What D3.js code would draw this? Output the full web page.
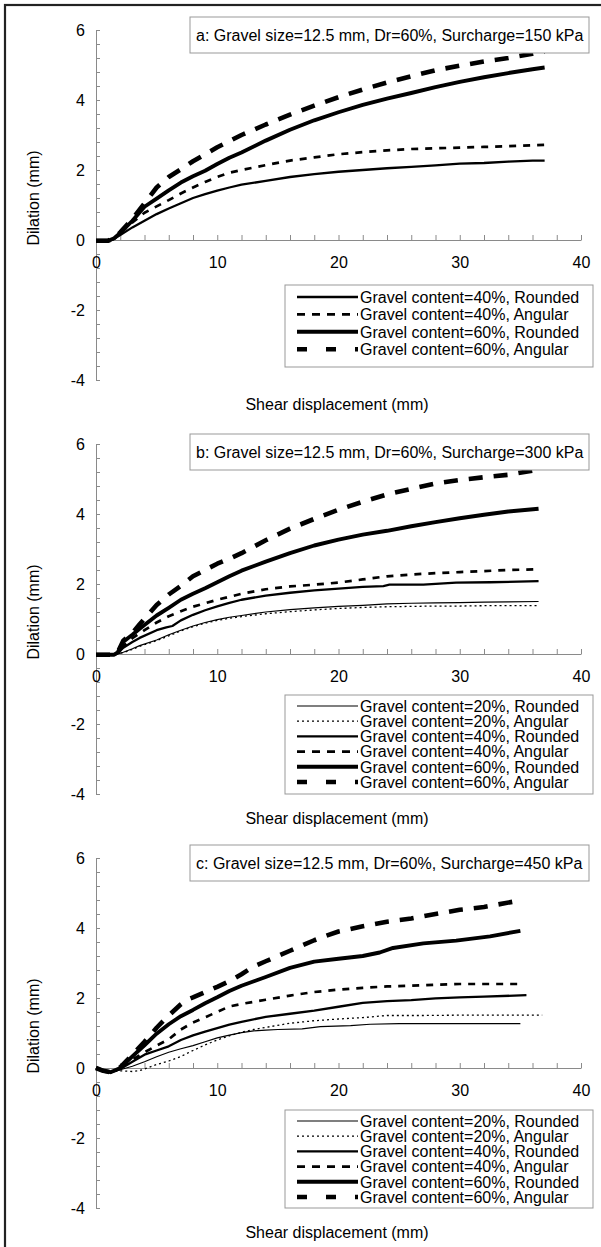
<!DOCTYPE html>
<html><head><meta charset="utf-8">
<script src="https://cdn.jsdelivr.net/npm/d3@7"></script>
<style>
body{margin:0;background:#fff}
svg{display:block}
text{font-family:"Liberation Sans",Arial,Helvetica,sans-serif;fill:#000}
</style>
</head><body>
<svg id="chart" width="601" height="1247"></svg>
<script>
// ---------- DATA (shear displacement mm, dilation mm) ----------
const xTickLabels = [0, 10, 20, 30, 40];
const yTickLabels = [6, 4, 2, 0, -2, -4];
const panelTitles = [
  "a: Gravel size=12.5 mm, Dr=60%, Surcharge=150 kPa",
  "b: Gravel size=12.5 mm, Dr=60%, Surcharge=300 kPa",
  "c: Gravel size=12.5 mm, Dr=60%, Surcharge=450 kPa"
];
const seriesLabels = {
  R20: "Gravel content=20%, Rounded",
  A20: "Gravel content=20%, Angular",
  R40: "Gravel content=40%, Rounded",
  A40: "Gravel content=40%, Angular",
  R60: "Gravel content=60%, Rounded",
  A60: "Gravel content=60%, Angular"
};

// Panel a (150 kPa)
const a_R40 = [[0,-0.02],[0.8,-0.03],[1.3,0.0],[2,0.14],[3,0.36],[4,0.55],[5,0.74],[6,0.9],[7,1.05],[8,1.2],[9,1.31],[10,1.41],[11,1.5],[12,1.58],[14,1.69],[16,1.8],[18,1.88],[20,1.95],[22,2.0],[24,2.05],[26,2.09],[28,2.13],[30,2.18],[32,2.2],[34,2.24],[36,2.27],[37,2.27]];
const a_A40 = [[0,-0.02],[1,-0.02],[1.5,0.04],[2,0.2],[3,0.5],[4,0.78],[5,0.96],[6,1.14],[7,1.33],[8,1.5],[9,1.66],[10,1.8],[11,1.92],[12,2.0],[14,2.14],[16,2.27],[18,2.36],[20,2.45],[22,2.51],[24,2.56],[26,2.6],[28,2.62],[30,2.64],[32,2.66],[34,2.68],[37,2.72]];
const a_R60 = [[0,-0.02],[1,-0.02],[1.5,0.05],[2,0.2],[3,0.55],[4,0.95],[5,1.18],[6,1.42],[7,1.64],[8,1.82],[9,1.98],[10,2.17],[11,2.35],[12,2.5],[14,2.84],[16,3.15],[18,3.42],[20,3.65],[22,3.86],[24,4.04],[26,4.2],[28,4.37],[30,4.52],[32,4.65],[34,4.77],[36,4.88],[37,4.93]];
const a_A60 = [[0,-0.02],[1,-0.02],[1.5,0.05],[2,0.22],[3,0.6],[4,1.05],[5,1.5],[6,1.8],[7,2.02],[8,2.25],[9,2.45],[10,2.65],[12,3.0],[14,3.3],[16,3.58],[18,3.84],[20,4.08],[22,4.3],[24,4.5],[26,4.68],[28,4.85],[30,4.98],[32,5.1],[34,5.2],[36,5.32],[37,5.38]];

// Panel b (300 kPa)
const b_R20 = [[0,-0.02],[1.5,-0.02],[1.8,0],[2.25,0.05],[3,0.15],[3.6,0.24],[5,0.4],[6,0.55],[7,0.68],[8,0.8],[9,0.9],[10,0.98],[11,1.05],[12,1.1],[14,1.2],[16,1.27],[18,1.32],[20,1.36],[22,1.39],[24,1.43],[26,1.45],[28,1.46],[30,1.47],[32,1.48],[34,1.49],[36.5,1.5]];
const b_A20 = [[0,-0.02],[1.5,-0.02],[1.8,0],[2.25,0.04],[3,0.13],[3.6,0.22],[5,0.38],[6,0.52],[7,0.66],[8,0.78],[9,0.88],[10,0.96],[11,1.02],[12,1.07],[14,1.15],[16,1.21],[18,1.26],[20,1.3],[22,1.33],[24,1.35],[26,1.36],[28,1.37],[30,1.37],[32,1.38],[34,1.38],[36.5,1.38]];
const b_R40 = [[0,-0.02],[1.5,-0.02],[1.8,0.02],[2.25,0.18],[3,0.34],[3.6,0.46],[5,0.68],[5.8,0.76],[6.3,0.8],[7,0.96],[8,1.12],[9,1.25],[10,1.36],[11,1.46],[12,1.55],[14,1.67],[16,1.75],[18,1.82],[20,1.87],[22,1.92],[23.7,1.94],[24.2,1.98],[27,1.98],[29.7,2.04],[32.5,2.05],[36.5,2.08]];
const b_A40 = [[0,-0.02],[1.5,-0.02],[1.8,0.02],[2.25,0.22],[3,0.45],[4,0.68],[5,0.9],[6,1.08],[7,1.22],[8,1.35],[9,1.45],[10,1.55],[12,1.72],[14,1.85],[16,1.93],[18,1.98],[20,2.04],[22,2.13],[24,2.22],[26,2.27],[28,2.31],[30,2.34],[32,2.37],[34,2.4],[36.5,2.42]];
const b_R60 = [[0,-0.02],[1.5,-0.02],[1.8,0.05],[2.25,0.35],[3,0.55],[3.6,0.72],[5,1.1],[6,1.32],[7,1.55],[8,1.72],[9,1.88],[10,2.05],[11,2.22],[12,2.38],[14,2.64],[16,2.88],[18,3.1],[20,3.27],[22,3.41],[24,3.52],[26,3.65],[28,3.77],[30,3.88],[32,3.98],[34,4.07],[36.5,4.15]];
const b_A60 = [[0,-0.02],[1.5,-0.02],[1.8,0.05],[2.25,0.38],[3,0.6],[3.6,0.85],[5,1.4],[6,1.7],[7,1.95],[8,2.22],[9,2.4],[10,2.58],[11,2.72],[12,2.88],[14,3.25],[16,3.58],[18,3.86],[20,4.12],[22,4.35],[24,4.56],[26,4.72],[28,4.87],[30,4.97],[32,5.05],[34,5.12],[36,5.24]];

// Panel c (450 kPa)
const c_R20 = [[0,0],[0.6,-0.08],[1.2,-0.12],[2,-0.05],[3,0.05],[4,0.18],[5,0.32],[6,0.45],[7,0.55],[8,0.64],[9,0.75],[10,0.86],[11,0.94],[12,1.01],[13,1.06],[14,1.08],[15,1.1],[17,1.12],[18.5,1.18],[21,1.21],[22.6,1.25],[25,1.27],[28,1.27],[31,1.27],[35,1.27]];
const c_A20 = [[0,0],[0.6,-0.08],[1.2,-0.12],[2,-0.08],[3,-0.1],[3.5,-0.08],[4,-0.03],[5,0.1],[6,0.2],[7,0.33],[8,0.5],[9,0.66],[10,0.8],[11,0.92],[12,1.02],[13,1.1],[14,1.16],[16,1.28],[18,1.35],[20,1.4],[22,1.44],[24,1.5],[27,1.5],[30,1.51],[33,1.51],[36.8,1.51]];
const c_R40 = [[0,0],[0.6,-0.08],[1.2,-0.12],[2,-0.03],[3,0.18],[4,0.38],[5,0.5],[6,0.62],[7,0.8],[8,0.93],[9,1.04],[10,1.14],[11,1.24],[12,1.32],[14,1.46],[16,1.55],[18,1.64],[20,1.75],[22,1.86],[24,1.91],[26,1.94],[28,1.99],[30,2.02],[32,2.04],[35.5,2.08]];
const c_A40 = [[0,0],[0.6,-0.08],[1.2,-0.12],[2,-0.02],[3,0.24],[4,0.45],[5,0.64],[6,0.82],[7,1.1],[8,1.3],[9,1.45],[10,1.6],[11,1.76],[12,1.83],[14,1.95],[16,2.07],[18,2.17],[20,2.24],[22,2.29],[24,2.33],[26,2.35],[28,2.38],[30,2.4],[32,2.4],[35.2,2.4]];
const c_R60 = [[0,0],[0.6,-0.08],[1.2,-0.12],[2,0.0],[3,0.33],[4,0.65],[5,0.98],[6,1.25],[7,1.48],[8,1.66],[9,1.85],[10,2.02],[11,2.2],[12,2.35],[14,2.6],[16,2.86],[18,3.04],[20,3.12],[22,3.2],[23.4,3.3],[24.5,3.43],[27,3.56],[29.7,3.64],[32.5,3.76],[35,3.92]];
const c_A60 = [[0,0],[0.6,-0.08],[1.2,-0.12],[2,0.02],[3,0.38],[4,0.75],[5,1.15],[6,1.5],[7,1.82],[7.5,1.95],[8,2.02],[9,2.17],[10,2.32],[11,2.48],[12,2.68],[13,2.9],[14,3.05],[16,3.35],[18,3.65],[19,3.78],[20,3.9],[22,4.05],[24,4.18],[26,4.27],[28,4.4],[30,4.52],[32,4.6],[34.7,4.77]];

// ---------- STYLES ----------
const lineStyle = {
  R20: {w: 1.2, dash: null},
  A20: {w: 1.3, dash: "2,3"},
  R40: {w: 2.3, dash: null},
  A40: {w: 2.7, dash: "7,7"},
  R60: {w: 3.9, dash: null},
  A60: {w: 4.6, dash: "14,11"}
};
const legendDash = {A20: "2,3", A40: "8,7", A60: "10,19"};

const panels = [
  {title: panelTitles[0], series: [["R40", a_R40], ["A40", a_A40], ["R60", a_R60], ["A60", a_A60]], rowGap: 17.4, legTop: 45, legH: 82, firstRow: 57, titleDy: 4},
  {title: panelTitles[1], series: [["R20", b_R20], ["A20", b_A20], ["R40", b_R40], ["A40", b_A40], ["R60", b_R60], ["A60", b_A60]], rowGap: 15.2, legTop: 41, legH: 99, firstRow: 52, titleDy: 7},
  {title: panelTitles[2], series: [["R20", c_R20], ["A20", c_A20], ["R40", c_R40], ["A40", c_A40], ["R60", c_R60], ["A60", c_A60]], rowGap: 15.2, legTop: 42, legH: 98, firstRow: 53, titleDy: 4}
];

const svg = d3.select("#chart");
svg.append("rect").attr("width", 601).attr("height", 1247).attr("fill", "#fff");
// outer frame (left & top visible)
svg.append("rect").attr("x", 5).attr("y", 5).attr("width", 610).attr("height", 1260)
  .attr("fill", "none").attr("stroke", "#222").attr("stroke-width", 2.2);

const axisColor = "#8a8a8a";
const X0 = 96, X1 = 581;
const fmt = v => String(v);   // plain hyphen-minus like the original

panels.forEach((p, i) => {
  const top = 30 + 414 * i;
  const x = d3.scaleLinear().domain([0, 40]).range([X0, X1]);
  const y = d3.scaleLinear().domain([-4, 6]).range([top + 350, top]);
  const g = svg.append("g");
  const y0 = y(0);

  // y axis with minor ticks (inside)
  const yMinor = d3.range(-4, 6.001, 0.4).map(v => +v.toFixed(1));
  const ya = g.append("g").attr("transform", `translate(${X0},0)`)
    .call(d3.axisRight(y).tickValues(yMinor).tickSize(4).tickSizeOuter(0).tickFormat(""));
  ya.selectAll("path,line").attr("stroke", axisColor);
  // y tick labels
  const yl = g.append("g").attr("transform", `translate(${X0},0)`)
    .call(d3.axisLeft(y).tickValues(yTickLabels).tickSize(0).tickPadding(11).tickFormat(fmt));
  yl.select(".domain").remove();
  yl.selectAll("text").attr("font-size", 16).attr("font-family", '"Liberation Sans",Arial,sans-serif').attr("fill", "#000");

  // x axis at y=0 with ticks every 2 (inside, pointing up)
  const xMinor = d3.range(2, 40.001, 2);
  const xa = g.append("g").attr("transform", `translate(0,${y0})`)
    .call(d3.axisTop(x).tickValues(xMinor).tickSize(5).tickSizeOuter(0).tickFormat(""));
  xa.selectAll("path,line").attr("stroke", axisColor);

  // curves
  const line = d3.line().x(d => x(d[0])).y(d => y(d[1])).curve(d3.curveLinear);
  p.series.forEach(([k, data]) => {
    const st = lineStyle[k];
    g.append("path").datum(data).attr("d", line)
      .attr("fill", "none").attr("stroke", "#000")
      .attr("stroke-width", st.w)
      .attr("stroke-dasharray", st.dash)
      .attr("stroke-linejoin", "round");
  });

  // x tick labels (drawn above curves/axis)
  const xl = g.append("g").attr("transform", `translate(0,${y0})`)
    .call(d3.axisBottom(x).tickValues(xTickLabels).tickSize(0).tickPadding(17).tickFormat(fmt));
  xl.select(".domain").remove();
  xl.selectAll("text").attr("font-size", 16).attr("font-family", '"Liberation Sans",Arial,sans-serif').attr("fill", "#000");

  // title box
  g.append("rect").attr("x", 190).attr("y", top - 13 + p.titleDy - 4).attr("width", 399).attr("height", 36)
    .attr("fill", "#fff").attr("stroke", "#999").attr("stroke-width", 1);
  g.append("text").attr("x", 196).attr("y", top + 5 + p.titleDy - 4).attr("dy", "0.35em")
    .attr("font-size", 16).text(p.title);

  // legend
  const lg = g.append("g");
  lg.append("rect").attr("x", 285).attr("y", y0 + p.legTop).attr("width", 308).attr("height", p.legH)
    .attr("fill", "#fff").attr("stroke", "#999").attr("stroke-width", 1);
  p.series.forEach(([k], j) => {
    const cy = y0 + p.firstRow + j * p.rowGap;
    const st = lineStyle[k];
    lg.append("line").attr("x1", 297).attr("x2", 358).attr("y1", cy).attr("y2", cy)
      .attr("stroke", "#000").attr("stroke-width", st.w)
      .attr("stroke-dasharray", legendDash[k] || null);
    lg.append("text").attr("x", 360).attr("y", cy).attr("dy", "0.36em")
      .attr("font-size", 16).text(seriesLabels[k]);
  });

  // axis titles
  g.append("text").attr("transform", `translate(33,${y0 - 42}) rotate(-90)`)
    .attr("text-anchor", "middle").attr("dy", "0.35em").attr("font-size", 16).text("Dilation (mm)");
  g.append("text").attr("x", 337).attr("y", y0 + 164).attr("dy", "0.35em")
    .attr("text-anchor", "middle").attr("font-size", 16).text("Shear displacement (mm)");
});
</script>
</body></html>
